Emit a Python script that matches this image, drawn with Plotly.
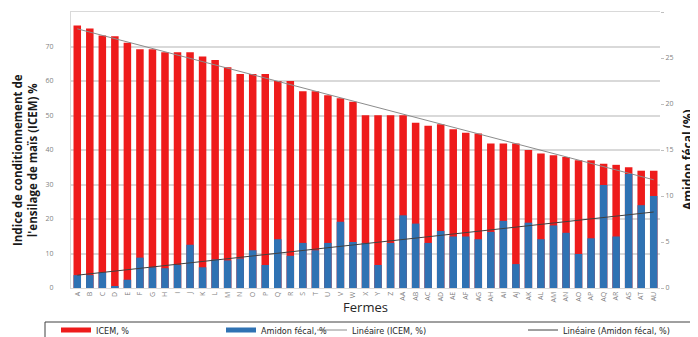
import numpy as np
import plotly.graph_objects as go

fermes = ["A","B","C","D","E","F","G","H","I","J","K","L","M","N","O","P","Q","R","S","T","U","V","W","X","Y","Z",
          "AA","AB","AC","AD","AE","AF","AG","AH","AI","AJ","AK","AL","AM","AN","AO","AP","AQ","AR","AS","AT","AU"]
icem = [76.1, 75.2, 73.2, 73.0, 71.1, 69.2, 69.2, 68.3, 68.3, 68.3, 67.1, 66.1, 64.0, 62.0, 62.0, 62.0,
        60.0, 60.0, 57.0, 57.0, 55.9, 55.0, 54.0, 50.1, 50.1, 50.1, 50.1, 47.9, 47.0, 47.5, 46.0, 45.0,
        44.8, 41.9, 41.9, 41.9, 40.0, 39.0, 38.5, 38.0, 37.0, 37.0, 36.0, 35.7, 35.0, 34.0, 34.0]
amidon = [1.4, 1.4, 1.7, 0.2, 0.9, 3.3, 2.25, 2.15, 2.5, 4.7, 2.25, 3.1, 3.0, 3.2, 4.1, 2.5,
          5.3, 3.5, 4.9, 4.1, 4.9, 7.2, 5.0, 4.9, 2.5, 4.9, 7.9, 7.0, 4.9, 6.2, 5.6, 5.6,
          5.3, 6.1, 7.3, 2.6, 7.1, 5.3, 6.8, 6.0, 3.7, 5.4, 11.2, 5.6, 12.4, 9.0, 10.0]
left_ticks = [0, 10, 20, 30, 40, 50, 60, 70, 80]
right_ticks = [0, 5, 10, 15, 20, 25, 30]

RED = "#ee1b1b"
BLUE = "#2f72b3"
GRID = "#d9d9d9"
TICK = "#7f7f7f"

idx = np.arange(len(fermes))
p1 = np.polyfit(idx, icem, 1)
p2 = np.polyfit(idx, amidon, 1)
trend_icem = np.polyval(p1, idx)
trend_am = np.polyval(p2, idx)

fig = go.Figure()
fig.add_trace(go.Bar(x=fermes, y=icem, name="ICEM, %", marker=dict(color=RED, line=dict(width=0)),
                     width=0.6, showlegend=False, yaxis="y"))
fig.add_trace(go.Scatter(x=fermes, y=trend_icem, mode="lines", name="Linéaire (ICEM, %)",
                         line=dict(color="#8c8c8c", width=1), yaxis="y", legend="legend3"))
fig.add_trace(go.Bar(x=fermes, y=amidon, name="Amidon fécal, %", marker=dict(color=BLUE, line=dict(width=0)),
                     width=0.6, showlegend=False, yaxis="y2"))
fig.add_trace(go.Scatter(x=fermes, y=trend_am, mode="lines", name="Linéaire (Amidon fécal, %)",
                         line=dict(color="#404040", width=1), yaxis="y2", legend="legend4"))
# legend swatches for the bar series
fig.add_trace(go.Scatter(x=[None], y=[None], mode="lines", name="ICEM, %",
                         line=dict(color=RED, width=5), legend="legend"))
fig.add_trace(go.Scatter(x=[None], y=[None], mode="lines", name="Amidon fécal, %",
                         line=dict(color=BLUE, width=5), legend="legend2"))

# The page body has an 8 px default margin, so the figure starts at (8, 8) in the window.
OFF = 8
W, H = 690, 329
L, R, T, B = 63, 38, 4, 49
pw = W - L - R
ph = H - T - B

def px2x(px):  # window pixel -> paper x
    return (px - OFF - L) / pw

def py2y(py):  # window pixel -> paper y
    return (H - B - (py - OFF)) / ph

legfont = dict(family="Liberation Sans Narrow, DejaVu Sans Condensed, sans-serif", size=9, color="#262626")
leg_common = dict(orientation="h", yanchor="middle", xanchor="left", bgcolor="rgba(0,0,0,0)",
                  borderwidth=0, font=legfont, itemclick=False)
ly = py2y(330)
fig.update_layout(
    legend=dict(x=px2x(56), y=ly, **leg_common),
    legend2=dict(x=px2x(221), y=ly, **leg_common),
    legend3=dict(x=px2x(312), y=ly, **leg_common),
    legend4=dict(x=px2x(523), y=ly, **leg_common),
)

# legend frame
fig.add_shape(type="rect", xref="paper", yref="paper", layer="above",
              x0=px2x(45), x1=px2x(695), y0=py2y(345), y1=py2y(322),
              line=dict(color="#404040", width=1), fillcolor="rgba(0,0,0,0)")

title_font = dict(family="Open Sans, sans-serif", size=11.5, color="#1a1a1a")
fig.add_annotation(text="<b>Indice de conditionnement de<br>l'ensilage de maïs (ICEM) %</b>",
                   xref="paper", yref="paper", x=px2x(25), y=py2y(160), textangle=-90,
                   showarrow=False, xanchor="center", yanchor="middle", font=title_font, borderpad=0)
fig.add_annotation(text="<b>Amidon fécal (%)</b>",
                   xref="paper", yref="paper", x=px2x(688), y=py2y(160), textangle=-90,
                   showarrow=False, xanchor="center", yanchor="middle",
                   font=dict(family="Open Sans, sans-serif", size=12, color="#1a1a1a"))

fig.update_layout(
    width=W, height=H,
    margin=dict(l=L, r=R, t=T, b=B, pad=0, autoexpand=False),
    paper_bgcolor="white", plot_bgcolor="white",
    barmode="overlay",
    font=dict(family="Open Sans, sans-serif", color="#262626"),
    xaxis=dict(
        type="category", tickangle=-90, tickfont=dict(size=7, color=TICK), automargin=False,
        showgrid=False, showline=True, linecolor=GRID, linewidth=1, mirror=True,
        ticks="", title=dict(text="Fermes", font=dict(size=13, color="#262626"), standoff=0),
        range=[-0.5, len(fermes) - 0.5],
    ),
    yaxis=dict(
        range=[0, 80], tickvals=left_ticks, tickfont=dict(size=7, color=TICK), automargin=False,
        showgrid=True, gridcolor=GRID, gridwidth=1.5, zeroline=False,
        showline=True, linecolor=GRID, linewidth=1, ticks="", ticklabelstandoff=15,
    ),
    yaxis2=dict(
        range=[0, 30], tickvals=right_ticks, overlaying="y", side="right", automargin=False,
        tickfont=dict(size=7, color=TICK), showgrid=False, zeroline=False,
        ticks="outside", ticklen=3, tickcolor="#bfbfbf", showline=False,
    ),
)

fig.write_html("out.html")
